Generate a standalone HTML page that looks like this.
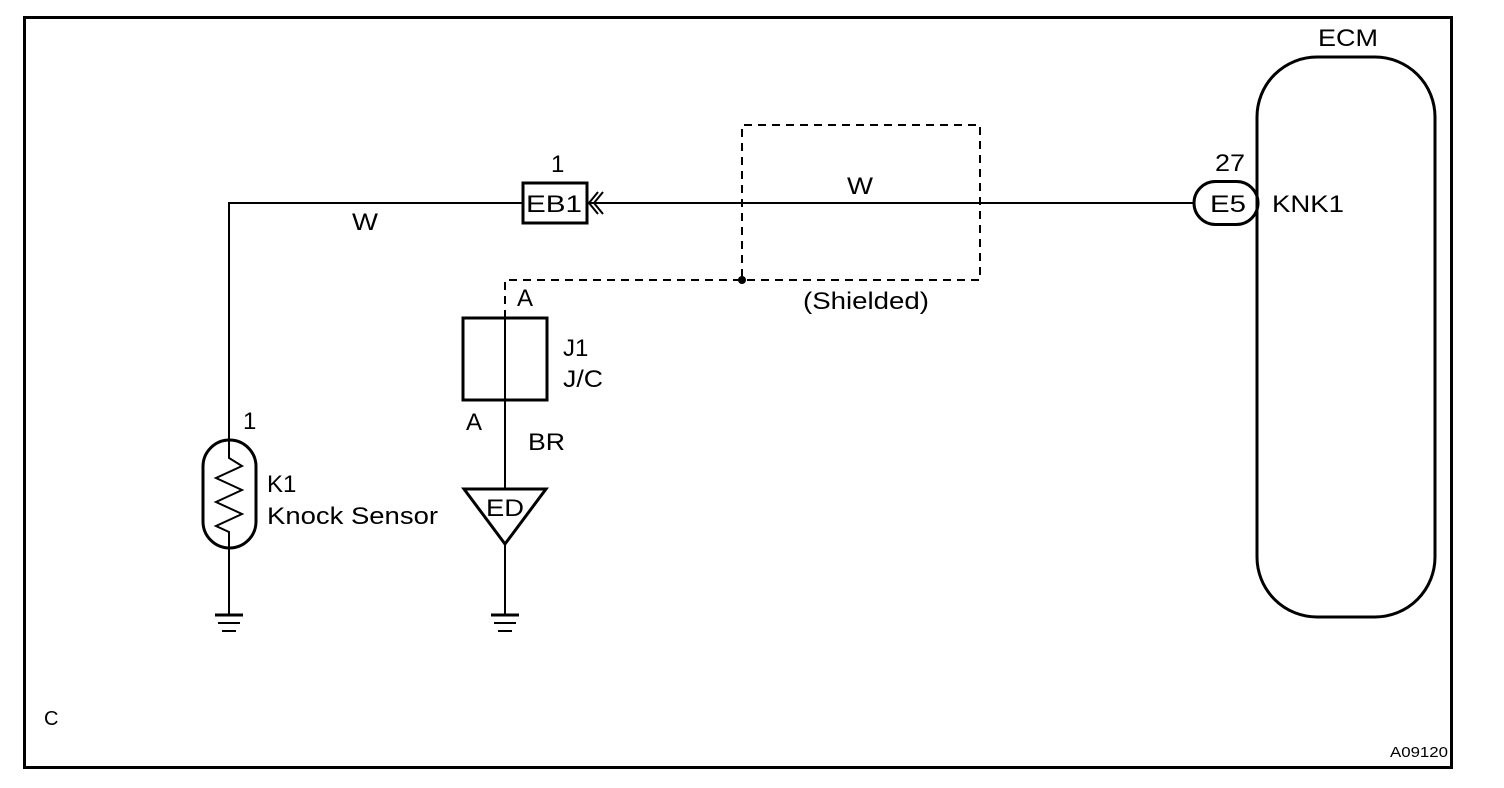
<!DOCTYPE html>
<html><head><style>
html,body{margin:0;padding:0;background:#fff;}
svg{display:block;}
text{font-family:"Liberation Sans",Arial,sans-serif;font-size:24px;fill:#000;}
</style></head><body>
<svg width="1504" height="788" viewBox="0 0 1504 788" xmlns="http://www.w3.org/2000/svg">
<rect x="24.5" y="17.5" width="1427" height="750" fill="none" stroke="#000" stroke-width="3"/>
<g fill="none" stroke="#000" stroke-width="2">
<polyline points="522,203 229,203 229,440"/>
<rect x="523" y="183" width="64" height="40" stroke-width="3"/>
<polyline points="598,192 589,203 598,214"/>
<polyline points="603,192 594,203 603,214"/>
<line x1="590" y1="203" x2="1194" y2="203"/>
<rect x="1194" y="181.5" width="64" height="43" rx="21.5" stroke-width="3"/>
<rect x="1257" y="57" width="178" height="560" rx="60" stroke-width="3"/>
<rect x="203" y="440" width="53" height="108" rx="26.5" stroke-width="3"/>
<polyline points="229,440 229,458 242,466 216,478 242,490 216,502 242,514 216,526 229,532 229,548"/>
<line x1="229" y1="548" x2="229" y2="615"/>
<line x1="215" y1="615" x2="243" y2="615" stroke-width="3"/>
<line x1="218" y1="623" x2="240" y2="623"/>
<line x1="222" y1="631" x2="236" y2="631"/>
<rect x="463" y="318" width="84" height="82" stroke-width="3"/>
<line x1="505" y1="318" x2="505" y2="488"/>
<polygon points="464,489 546,489 505,544" stroke-width="3"/>
<line x1="505" y1="544" x2="505" y2="615"/>
<line x1="491" y1="615" x2="519" y2="615" stroke-width="3"/>
<line x1="494" y1="623" x2="516" y2="623"/>
<line x1="498" y1="631" x2="512" y2="631"/>
<g stroke-dasharray="8,6">
<polyline points="505,318 505,280 980,280 980,125 742,125 742,280"/>
</g>
</g>
<circle cx="742" cy="280" r="4" fill="#000"/>
<text x="551" y="172">1</text>
<text x="526" y="212" textLength="56" lengthAdjust="spacingAndGlyphs">EB1</text>
<text x="352" y="230" textLength="26" lengthAdjust="spacingAndGlyphs">W</text>
<text x="847" y="194" textLength="26" lengthAdjust="spacingAndGlyphs">W</text>
<text x="1215" y="171" textLength="30" lengthAdjust="spacingAndGlyphs">27</text>
<text x="1210" y="212" textLength="36" lengthAdjust="spacingAndGlyphs">E5</text>
<text x="1272" y="212" textLength="72" lengthAdjust="spacingAndGlyphs">KNK1</text>
<text x="1318" y="46" textLength="60" lengthAdjust="spacingAndGlyphs">ECM</text>
<text x="803" y="309" textLength="126" lengthAdjust="spacingAndGlyphs">(Shielded)</text>
<text x="517" y="306">A</text>
<text x="563" y="356">J1</text>
<text x="563" y="387" textLength="40" lengthAdjust="spacingAndGlyphs">J/C</text>
<text x="466" y="430">A</text>
<text x="528" y="450" textLength="37" lengthAdjust="spacingAndGlyphs">BR</text>
<text x="243" y="429">1</text>
<text x="267" y="492">K1</text>
<text x="267" y="524" textLength="171" lengthAdjust="spacingAndGlyphs">Knock Sensor</text>
<text x="486" y="516" textLength="38" lengthAdjust="spacingAndGlyphs">ED</text>
<text x="44" y="725" style="font-size:20px">C</text>
<text x="1390" y="757" style="font-size:15px" textLength="58" lengthAdjust="spacingAndGlyphs">A09120</text>
</svg>
</body></html>
